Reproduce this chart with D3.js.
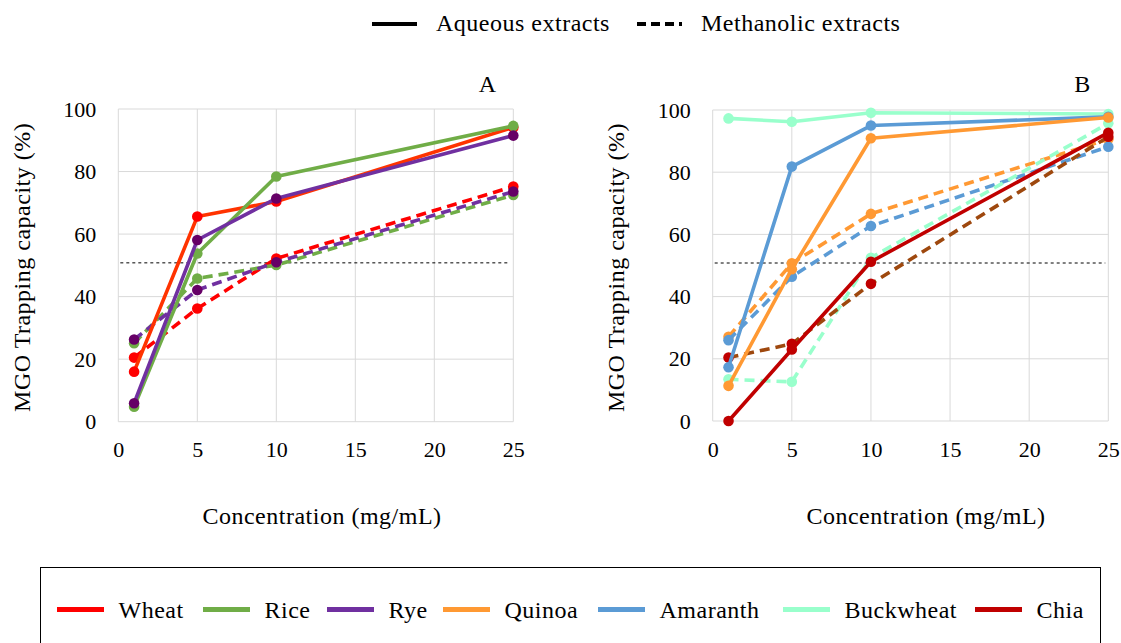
<!DOCTYPE html>
<html><head><meta charset="utf-8">
<script src="https://cdn.jsdelivr.net/npm/d3@7"></script>
<style>body{margin:0;background:#fff}svg{display:block}text{font-family:"Liberation Serif","DejaVu Serif",serif;fill:#000}</style>
</head><body><svg id="c" width="1121" height="643"></svg>
<script>
// ---- data ----
const concentrations = [1, 5, 10, 25];
const xTicks = [0, 5, 10, 15, 20, 25];
const yTicks = [0, 20, 40, 60, 80, 100];
const threshold = 50.8;
const grains = ["Wheat", "Rice", "Rye", "Quinoa", "Amaranth", "Buckwheat", "Chia"];

// Panel A
const wheatAqueous    = [16.0, 65.6, 70.4, 94.1];
const wheatMethanolic = [20.5, 36.2, 52.2, 75.2];
const riceAqueous     = [4.8, 53.8, 78.4, 94.6];
const riceMethanolic  = [25.1, 45.8, 50.1, 72.5];
const ryeAqueous      = [5.9, 58.1, 71.4, 91.5];
const ryeMethanolic   = [26.3, 42.1, 51.0, 73.6];
// Panel B
const quinoaAqueous       = [11.3, 48.8, 90.9, 97.6];
const quinoaMethanolic    = [27.1, 50.7, 66.6, 90.6];
const amaranthAqueous     = [17.3, 81.8, 95.0, 97.8];
const amaranthMethanolic  = [26.0, 46.4, 62.7, 88.2];
const buckwheatAqueous    = [97.3, 96.2, 99.1, 98.7];
const buckwheatMethanolic = [13.4, 12.6, 52.5, 95.7];
const chiaAqueous         = [0.0, 23.0, 51.2, 92.7];
const chiaMethanolic      = [20.4, 24.8, 44.1, 91.4];

// ---- styles ----
const style = {
  Wheat:     {aq: "#FF3300", me: "#FF0000", mk: "#FF0000", leg: "#FF0000"},
  Rice:      {aq: "#70AD47", me: "#70AD47", mk: "#70AD47", leg: "#70AD47"},
  Rye:       {aq: "#7030A0", me: "#7030A0", mk: "#660066", leg: "#7030A0"},
  Quinoa:    {aq: "#FF9933", me: "#FF9933", mk: "#FF9933", leg: "#FF9933"},
  Amaranth:  {aq: "#5B9BD5", me: "#5B9BD5", mk: "#5B9BD5", leg: "#5B9BD5"},
  Buckwheat: {aq: "#99FFCC", me: "#99FFCC", mk: "#99FFCC", leg: "#99FFCC"},
  Chia:      {aq: "#C00000", me: "#9E480E", mk: "#C00000", leg: "#C00000"}
};

const panels = [
  {label: "A", left: 118.3, right: 513.3, top: 109, bottom: 421.7, xTitle: 322, yTitle: 29.5,
   series: [
     {g: "Wheat", t: "me", v: wheatMethanolic},
     {g: "Rice", t: "me", v: riceMethanolic},
     {g: "Rye", t: "me", v: ryeMethanolic},
     {g: "Wheat", t: "aq", v: wheatAqueous},
     {g: "Rice", t: "aq", v: riceAqueous},
     {g: "Rye", t: "aq", v: ryeAqueous}
   ]},
  {label: "B", left: 712.7, right: 1108.3, top: 110, bottom: 421, xTitle: 926, yTitle: 624,
   series: [
     {g: "Quinoa", t: "me", v: quinoaMethanolic},
     {g: "Amaranth", t: "me", v: amaranthMethanolic},
     {g: "Buckwheat", t: "me", v: buckwheatMethanolic},
     {g: "Chia", t: "me", v: chiaMethanolic},
     {g: "Buckwheat", t: "aq", v: buckwheatAqueous},
     {g: "Amaranth", t: "aq", v: amaranthAqueous},
     {g: "Quinoa", t: "aq", v: quinoaAqueous},
     {g: "Chia", t: "aq", v: chiaAqueous}
   ]}
];

const svg = d3.select("#c");
const FS = 22;   // tick labels
const TS = 24;   // titles and legends
const LS = "0.5px";

panels.forEach(p => {
  const x = d3.scaleLinear().domain([0, 25]).range([p.left, p.right]);
  const y = d3.scaleLinear().domain([0, 100]).range([p.bottom, p.top]);
  const g = svg.append("g");
  // grid
  g.selectAll(".gx").data(xTicks).join("line")
    .attr("x1", d => x(d)).attr("x2", d => x(d)).attr("y1", p.top).attr("y2", p.bottom)
    .attr("stroke", "#D9D9D9").attr("stroke-width", 1);
  g.selectAll(".gy").data(yTicks).join("line")
    .attr("y1", d => y(d)).attr("y2", d => y(d)).attr("x1", p.left).attr("x2", p.right)
    .attr("stroke", "#D9D9D9").attr("stroke-width", 1);
  // axes (labels only)
  const ax = g.append("g").attr("transform", `translate(0,${p.bottom})`)
    .call(d3.axisBottom(x).tickValues(xTicks).tickSize(0).tickPadding(20));
  ax.select(".domain").remove();
  ax.selectAll("text").attr("font-size", FS).style("font-family", '"Liberation Serif",serif');
  const ay = g.append("g").attr("transform", `translate(${p.left},0)`)
    .call(d3.axisLeft(y).tickValues(yTicks).tickSize(0).tickPadding(22));
  ay.select(".domain").remove();
  ay.selectAll("text").attr("font-size", FS).style("font-family", '"Liberation Serif",serif');
  // threshold
  g.append("line").attr("x1", p.left + 2).attr("x2", p.right - 3)
    .attr("y1", y(threshold)).attr("y2", y(threshold))
    .attr("stroke", "#000").attr("stroke-width", 1).attr("stroke-dasharray", "3,3");
  // series
  const line = d3.line().x((d, i) => x(concentrations[i])).y(d => y(d));
  p.series.forEach(s => {
    const st = style[s.g];
    g.append("path").attr("d", line(s.v)).attr("fill", "none")
      .attr("stroke", st[s.t]).attr("stroke-width", 3.6)
      .attr("stroke-linejoin", "round")
      .attr("stroke-dasharray", s.t === "me" ? "10,6" : null);
    g.selectAll(null).data(s.v).join("circle")
      .attr("cx", (d, i) => x(concentrations[i])).attr("cy", d => y(d))
      .attr("r", 5.3).attr("fill", st.mk);
  });
  // titles
  g.append("text").attr("x", p.xTitle).attr("y", 524)
    .attr("text-anchor", "middle").attr("font-size", TS).attr("letter-spacing", LS).text("Concentration (mg/mL)");
  g.append("text").attr("transform", `translate(${p.yTitle},${(p.top + p.bottom) / 2 + 2}) rotate(-90)`)
    .attr("text-anchor", "middle").attr("font-size", TS).attr("letter-spacing", LS).text("MGO Trapping capacity (%)");
  g.append("text").attr("x", p.right - 26).attr("y", 92)
    .attr("text-anchor", "middle").attr("font-size", TS).text(p.label);
});

// top legend
const topLegend = svg.append("g");
const topItems = [{t: "Aqueous extracts", dash: null, x: 372}, {t: "Methanolic extracts", dash: "9,5", x: 637}];
topItems.forEach(it => {
  topLegend.append("line").attr("x1", it.x).attr("x2", it.x + 45).attr("y1", 24).attr("y2", 24)
    .attr("stroke", "#000").attr("stroke-width", 4).attr("stroke-dasharray", it.dash);
  topLegend.append("text").attr("x", it.x + 64).attr("y", 31).attr("font-size", TS)
    .attr("letter-spacing", LS).text(it.t);
});

// bottom legend
svg.append("rect").attr("x", 40.5).attr("y", 567.5).attr("width", 1060).attr("height", 90)
  .attr("fill", "none").attr("stroke", "#000").attr("stroke-width", 1);
const legX = [57, 203, 327, 443, 598, 783, 975];
grains.forEach((gname, i) => {
  svg.append("line").attr("x1", legX[i]).attr("x2", legX[i] + 47).attr("y1", 609.5).attr("y2", 609.5)
    .attr("stroke", style[gname].leg).attr("stroke-width", 5);
  svg.append("text").attr("x", legX[i] + 61.5).attr("y", 618).attr("font-size", TS)
    .attr("letter-spacing", LS).text(gname);
});
</script></body></html>
